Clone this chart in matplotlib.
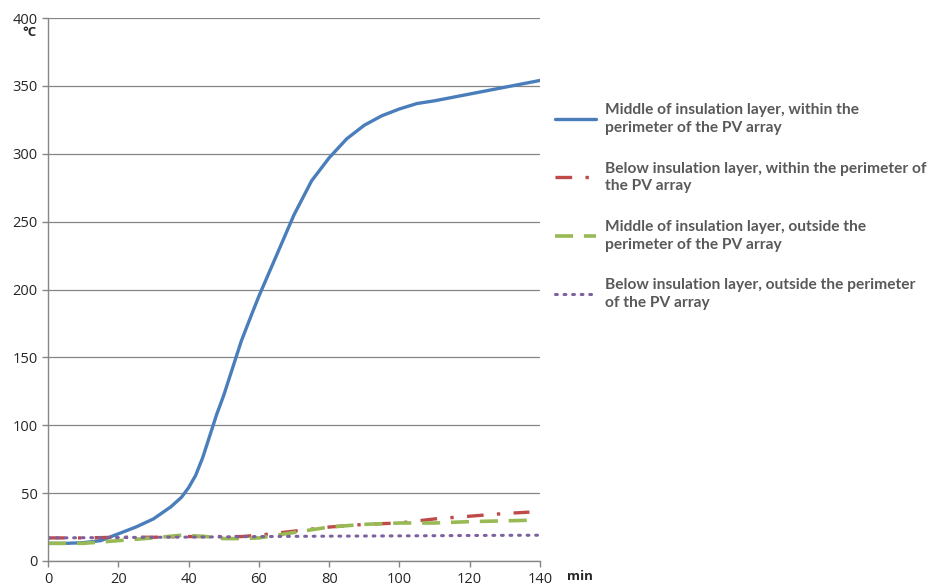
import matplotlib
matplotlib.use("Agg")
import matplotlib.pyplot as plt

# Data
blue_x = [0, 5, 10, 15, 20, 25, 30, 35, 38, 40, 42, 44, 46, 48, 50, 52, 55, 58, 60, 65, 70, 75, 80, 85, 90, 95, 100, 105, 110, 120, 130, 140]
blue_y = [13, 13, 13.5, 15, 20, 25, 31, 40, 47, 54, 63, 76, 92, 108, 122, 138, 162, 182, 195, 225, 255, 280, 297, 311, 321, 328, 333, 337, 339, 344, 349, 354]

red_x = [0, 10, 20, 30, 40, 50, 55, 60, 70, 80, 90, 100, 110, 120, 130, 137]
red_y = [17, 17, 17.5, 17.5, 18, 18, 18, 19, 22, 25, 27, 28, 31, 33, 35, 36]

green_x = [0, 10, 20, 30, 38, 45, 50, 55, 60, 65, 70, 75, 80, 90, 100, 110, 120, 137]
green_y = [13, 13, 15, 17, 19, 18, 16.5, 16.5, 17, 19, 21, 23, 25, 27, 28, 28, 29, 30]

purple_x = [0, 20, 40, 60, 80, 100, 120, 140]
purple_y = [17, 17.3, 17.6, 18, 18.3, 18.5, 18.8, 19]

labels = [
    "Middle of insulation layer, within the\nperimeter of the PV array",
    "Below insulation layer, within the perimeter of\nthe PV array",
    "Middle of insulation layer, outside the\nperimeter of the PV array",
    "Below insulation layer, outside the perimeter\nof the PV array",
]
x_ticks = [0, 20, 40, 60, 80, 100, 120, 140]
y_ticks = [0, 50, 100, 150, 200, 250, 300, 350, 400]

plt.rcParams['font.family'] = ['Open Sans', 'DejaVu Sans']

fig = plt.figure(figsize=(9.44, 5.88), dpi=100)
ax = fig.add_axes([48/944, 1-561/588, (540-48)/944, (561-18)/588])

l1, = ax.plot(blue_x, blue_y, color='#4a7ebb', lw=2.4, solid_capstyle='round', solid_joinstyle='round')
l2, = ax.plot(red_x, red_y, color='#be4b48', lw=2.4, linestyle=(0, (5, 4, 1, 4)))
l3, = ax.plot(green_x, green_y, color='#98b954', lw=2.6, linestyle=(0, (5, 3)))
l4, = ax.plot(purple_x, purple_y, color='#7d60a0', lw=2.2, linestyle=(0, (0.6, 2.2)), dash_capstyle='round')

ax.set_xlim(0, 140)
ax.set_ylim(0, 400)
ax.set_xticks(x_ticks)
ax.set_yticks(y_ticks)
ax.grid(axis='y', color='#868686', lw=0.9)
ax.set_axisbelow(True)
for s in ['top', 'right']:
    ax.spines[s].set_visible(False)
for s in ['left', 'bottom']:
    ax.spines[s].set_color('#868686')
    ax.spines[s].set_linewidth(1.0)
ax.tick_params(axis='both', colors='#868686', labelcolor='#262626', labelsize=10.5, length=4, width=1)
ax.tick_params(axis='x', pad=4)

fig.text(22/944, 1-33/588, '°C', fontsize=9.5, fontweight='bold', color='#262626', ha='left', va='center')
fig.text(567/944, 1-576/588, 'min', fontsize=9.5, fontweight='bold', color='#262626', ha='left', va='center')

leg = fig.legend([l1, l2, l3, l4], labels, loc='upper left',
                 bbox_to_anchor=(549/944, 1-97/588), frameon=False,
                 prop={'family': 'Lato', 'weight': 'bold', 'size': 11.2},
                 labelspacing=1.7, handlelength=2.6, handletextpad=0.6,
                 borderaxespad=0)
for t in leg.get_texts():
    t.set_color('#595959')
    t.set_linespacing(1.35)

fig.savefig('out.png', dpi=100)
